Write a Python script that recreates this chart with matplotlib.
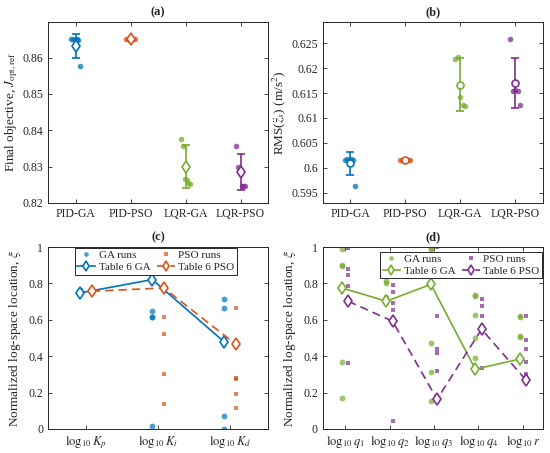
import numpy as np
import matplotlib
matplotlib.use('Agg')
import matplotlib.pyplot as plt

plt.rcParams['font.family'] = ['Liberation Serif', 'DejaVu Serif']
plt.rcParams['mathtext.fontset'] = 'stix'
plt.rcParams['text.color'] = '#262626'
plt.rcParams['axes.labelcolor'] = '#262626'
plt.rcParams['xtick.color'] = '#262626'
plt.rcParams['ytick.color'] = '#262626'
plt.rcParams['axes.edgecolor'] = '#262626'

# MATLAB default colours
blue = '#0072BD'
orange = '#D95319'
green = '#77AC30'
purple = '#7E2F8E'

# ---- data: panel (a) and (b) ----
methods = ['PID-GA', 'PID-PSO', 'LQR-GA', 'LQR-PSO']
method_colors = [blue, orange, green, purple]

J_runs = [
    [0.8650, 0.8652, 0.8649, 0.8651, 0.8648, 0.8576],
    [0.8650, 0.8651, 0.8649, 0.8650, 0.8650, 0.8651],
    [0.8377, 0.8357, 0.8267, 0.8262, 0.8255, 0.8252],
    [0.8357, 0.8300, 0.8283, 0.8248, 0.8247, 0.8248],
]
J_mean = [0.8633, 0.8650, 0.8300, 0.8285]
J_std = [0.0033, 0.0001, 0.0060, 0.0049]

rms_runs = [
    [0.6016, 0.6018, 0.6014, 0.6017, 0.6015, 0.5964],
    [0.6015, 0.6016, 0.6014, 0.6015, 0.6016, 0.6015],
    [0.6218, 0.6222, 0.6142, 0.6127, 0.6123],
    [0.6259, 0.6155, 0.6156, 0.6155, 0.6125],
]
rms_mean = [0.6009, 0.6015, 0.6167, 0.6170]
rms_std = [0.0023, 0.0001, 0.0053, 0.0051]

# ---- data: panel (c) PID gains ----
pid_params = [r'$\log_{10}K_p$', r'$\log_{10}K_i$', r'$\log_{10}K_d$']
pid_ga_runs = [
    [0.760, 0.755, 0.752, 0.758, 0.762],
    [0.821, 0.649, 0.616, 0.613, 0.018],
    [0.713, 0.664, 0.479, 0.069, 0.000],
]
pid_pso_runs = [
    [0.757, 0.757, 0.756, 0.758, 0.757],
    [0.775, 0.617, 0.523, 0.300, 0.137],
    [0.665, 0.282, 0.272, 0.190, 0.115],
]
pid_table_ga = [0.748, 0.821, 0.479]
pid_table_pso = [0.757, 0.775, 0.466]

# ---- data: panel (d) LQR weights ----
lqr_params = [r'$\log_{10}q_1$', r'$\log_{10}q_2$', r'$\log_{10}q_3$',
              r'$\log_{10}q_4$', r'$\log_{10}r$']
lqr_ga_runs = [
    [0.991, 0.900, 0.898, 0.369, 0.172],
    [0.912, 0.872, 0.812, 0.803, 0.726],
    [0.995, 0.990, 0.470, 0.311, 0.155],
    [0.735, 0.733, 0.629, 0.500, 0.391],
    [0.620, 0.617, 0.512, 0.507, 0.384],
]
lqr_pso_runs = [
    [0.995, 0.881, 0.845, 0.784, 0.360],
    [0.790, 0.753, 0.690, 0.653, 0.046],
    [1.000, 0.620, 0.442, 0.415, 0.320],
    [0.713, 0.676, 0.620, 0.548, 0.333],
    [0.620, 0.488, 0.442, 0.369, 0.300],
]
lqr_table_ga = [0.775, 0.702, 0.795, 0.329, 0.384]
lqr_table_pso = [0.702, 0.592, 0.163, 0.548, 0.269]

fig = plt.figure(figsize=(5.5, 4.53), dpi=100)
ax_a = fig.add_axes([0.0873, 0.552, 0.40, 0.3995])
ax_b = fig.add_axes([0.587, 0.552, 0.40, 0.3995])
ax_c = fig.add_axes([0.0873, 0.053, 0.40, 0.4017])
ax_d = fig.add_axes([0.587, 0.053, 0.40, 0.4017])


def style(ax, title):
    ax.tick_params(direction='in', top=True, right=True, length=3,
                   labelsize=8.5, width=0.6)
    for s in ax.spines.values():
        s.set_linewidth(0.7)
    ax.set_title(title, fontsize=9, fontweight='bold', pad=5)


def summary_panel(ax, runs, means, stds, marker, ms):
    x = np.arange(1, len(runs) + 1)
    for i in range(len(runs)):
        n = len(runs[i])
        jit = np.linspace(-0.09, 0.09, n)
        ax.scatter(x[i] + jit, runs[i], s=16, color=method_colors[i],
                   alpha=0.75, linewidths=0, zorder=2)
        ax.errorbar(x[i], means[i], yerr=stds[i], fmt='none',
                    ecolor=method_colors[i], capsize=3, elinewidth=1.2,
                    capthick=1.2, zorder=3)
        ax.plot(x[i], means[i], marker=marker, ms=ms, mfc='white',
                mec=method_colors[i], mew=1.2, ls='none', zorder=4)
    ax.set_xticks(x)
    ax.set_xticklabels(methods)
    ax.set_xlim(0.5, 4.5)


# (a)
summary_panel(ax_a, J_runs, J_mean, J_std, 'd', 6.5)
ax_a.set_ylim(0.82, 0.8698)
ax_a.set_yticks([0.82, 0.83, 0.84, 0.85, 0.86])
ax_a.set_yticklabels(['0.82', '0.83', '0.84', '0.85', '0.86'])
ax_a.set_ylabel(r'Final objective, $J_{\mathrm{opt,ref}}$', fontsize=9.5, labelpad=2)
style(ax_a, '(a)')

# (b)
summary_panel(ax_b, rms_runs, rms_mean, rms_std, 'o', 5)
ax_b.set_ylim(0.5929, 0.6293)
ax_b.set_yticks([0.595, 0.6, 0.605, 0.61, 0.615, 0.62, 0.625])
ax_b.set_yticklabels(['0.595', '0.6', '0.605', '0.61', '0.615', '0.62', '0.625'])
ax_b.set_ylabel(r'RMS($\ddot{z}_s$) (m/s$^2$)', fontsize=9.5, labelpad=2)
style(ax_b, '(b)')


def param_panel(ax, names, ga_runs, pso_runs, tab_ga, tab_pso, c_ga, c_pso, off):
    x = np.arange(1, len(names) + 1)
    for i in range(len(names)):
        ax.plot([x[i] - off] * len(ga_runs[i]), ga_runs[i], 'o', ms=4.2,
                color=c_ga, alpha=0.7, mew=0, zorder=2,
                label='GA runs' if i == 0 else None)
    for i in range(len(names)):
        ax.plot([x[i] + off] * len(pso_runs[i]), pso_runs[i], 's', ms=3.4,
                color=c_pso, alpha=0.7, mew=0, zorder=2,
                label='PSO runs' if i == 0 else None)
    ax.plot(x - off, tab_ga, '-', color=c_ga, lw=1.2, marker='d', ms=6.5,
            mfc='white', mec=c_ga, mew=1.2, zorder=3, label='Table 6 GA')
    ax.plot(x + off, tab_pso, '--', color=c_pso, lw=1.2, marker='d', ms=6.5,
            mfc='white', mec=c_pso, mew=1.2, zorder=3, label='Table 6 PSO',
            dashes=(5, 3))
    ax.set_xticks(x)
    ax.set_xticklabels(names)
    ax.set_ylim(0, 1)
    ax.set_yticks([0, 0.2, 0.4, 0.6, 0.8, 1])
    ax.set_yticklabels(['0', '0.2', '0.4', '0.6', '0.8', '1'])
    ax.set_ylabel(r'Normalized log-space location, $\xi$', fontsize=9.5, labelpad=4)
    h, l = ax.get_legend_handles_labels()
    order = [0, 2, 1, 3]
    return [h[k] for k in order], [l[k] for k in order]


def add_legend(ax, h, l, loc, anchor):
    leg = ax.legend(h, l, ncol=2, loc=loc, bbox_to_anchor=anchor,
                    fontsize=8, frameon=True, fancybox=False, borderaxespad=0.1,
                    handlelength=1.6, columnspacing=0.6, borderpad=0.22,
                    labelspacing=0.2, handletextpad=0.3, markerscale=0.8)
    leg.get_frame().set_edgecolor('#262626')
    leg.get_frame().set_linewidth(0.7)
    leg.get_frame().set_alpha(1)


# (c)
h, l = param_panel(ax_c, pid_params, pid_ga_runs, pid_pso_runs,
                   pid_table_ga, pid_table_pso, blue, orange, 0.08)
ax_c.set_xlim(0.47, 3.53)
style(ax_c, '(c)')
ax_c.tick_params(axis='x', labelsize=9)
add_legend(ax_c, h, l, 'upper center', (0.49, 1.0))

# (d)
h, l = param_panel(ax_d, lqr_params, lqr_ga_runs, lqr_pso_runs,
                   lqr_table_ga, lqr_table_pso, green, purple, 0.07)
ax_d.set_xlim(0.5, 5.45)
style(ax_d, '(d)')
ax_d.tick_params(axis='x', labelsize=9)
add_legend(ax_d, h, l, 'upper right', (1.0, 0.98))

fig.savefig('out.png', dpi=100)
